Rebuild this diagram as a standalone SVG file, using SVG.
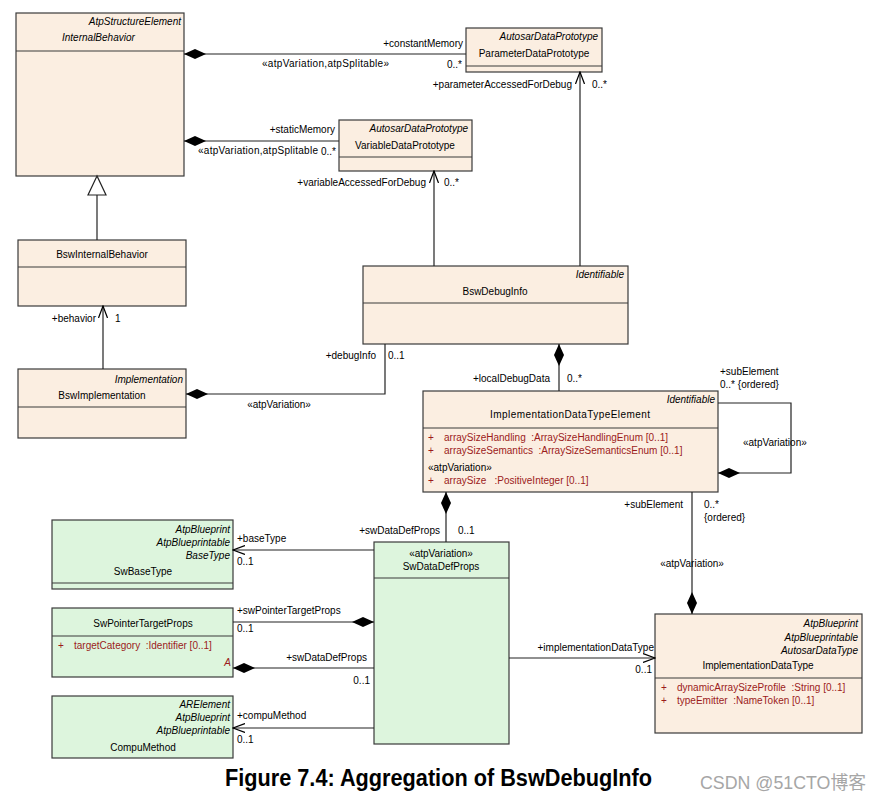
<svg xmlns="http://www.w3.org/2000/svg" width="875" height="805" viewBox="0 0 875 805">
<style>
text{font-family:"Liberation Sans",Arial,sans-serif;font-size:10px;fill:#000}
.it{font-style:italic}
.r{text-anchor:end}
.m{text-anchor:middle}
.attr{fill:#9b1b1b;white-space:pre}
.box{fill:#fbeee1;stroke:#3a3a3a;stroke-width:1.2}
.gbox{fill:#ddf5dd;stroke:#3a3a3a;stroke-width:1.2}
.div{stroke:#3a3a3a;stroke-width:1.2}
.c{fill:none;stroke:#222;stroke-width:1.2}
</style>
<defs>
<marker id="dia" viewBox="0 0 22 10" refX="0" refY="5" markerWidth="22" markerHeight="10" markerUnits="userSpaceOnUse" orient="auto">
<path d="M0,5 L11,0 L22,5 L11,10 Z" fill="#000"/>
</marker>
<marker id="arr" viewBox="0 0 13 10" refX="12" refY="5" markerWidth="13" markerHeight="10" markerUnits="userSpaceOnUse" orient="auto">
<path d="M0,0.5 L12,5 L0,9.5" fill="none" stroke="#000" stroke-width="1.2"/>
</marker>
</defs>
<rect width="875" height="805" fill="#fff"/>

<g id="InternalBehavior">
<rect class="box" x="16" y="13" width="168" height="163"/>
<line class="div" x1="16" y1="51" x2="184" y2="51"/>
<text class="it r" x="181" y="25">AtpStructureElement</text>
<text class="it" x="62" y="41">InternalBehavior</text>
</g>

<g id="ParameterDataPrototype">
<rect class="box" x="466" y="28" width="136" height="44"/>
<line class="div" x1="466" y1="66" x2="602" y2="66"/>
<text class="it r" x="598" y="40">AutosarDataPrototype</text>
<text class="m" x="534" y="57">ParameterDataPrototype</text>
</g>

<g id="VariableDataPrototype">
<rect class="box" x="339" y="120" width="133" height="51"/>
<line class="div" x1="339" y1="157" x2="472" y2="157"/>
<text class="it r" x="468" y="132">AutosarDataPrototype</text>
<text class="m" x="405" y="149">VariableDataPrototype</text>
</g>

<g id="BswInternalBehavior">
<rect class="box" x="18" y="240" width="168" height="66"/>
<line class="div" x1="18" y1="267" x2="186" y2="267"/>
<text class="m" x="102" y="258">BswInternalBehavior</text>
</g>

<g id="BswImplementation">
<rect class="box" x="18" y="369" width="168" height="69"/>
<line class="div" x1="18" y1="407" x2="186" y2="407"/>
<text class="it r" x="183" y="383">Implementation</text>
<text class="m" x="102" y="399">BswImplementation</text>
</g>

<g id="BswDebugInfo">
<rect class="box" x="363" y="266" width="265" height="78"/>
<line class="div" x1="363" y1="303" x2="628" y2="303"/>
<text class="it r" x="624" y="278">Identifiable</text>
<text class="m" x="495" y="295">BswDebugInfo</text>
</g>

<g id="ImplementationDataTypeElement">
<rect class="box" x="423" y="391" width="295" height="101"/>
<line class="div" x1="423" y1="428" x2="718" y2="428"/>
<text class="it r" x="715" y="403">Identifiable</text>
<text class="m" x="570" y="418" textLength="160">ImplementationDataTypeElement</text>
<text class="attr" x="428" y="441">+</text>
<text class="attr" x="444" y="441" xml:space="preserve">arraySizeHandling  :ArraySizeHandlingEnum [0..1]</text>
<text class="attr" x="428" y="454">+</text>
<text class="attr" x="444" y="454" xml:space="preserve">arraySizeSemantics  :ArraySizeSemanticsEnum [0..1]</text>
<text x="428" y="471">«atpVariation»</text>
<text class="attr" x="428" y="484">+</text>
<text class="attr" x="444" y="484" xml:space="preserve">arraySize   :PositiveInteger [0..1]</text>
</g>

<g id="SwBaseType">
<rect class="gbox" x="52" y="520" width="181" height="69"/>
<line class="div" x1="52" y1="583" x2="233" y2="583"/>
<text class="it r" x="230" y="533">AtpBlueprint</text>
<text class="it r" x="230" y="546">AtpBlueprintable</text>
<text class="it r" x="230" y="559">BaseType</text>
<text class="m" x="143" y="575">SwBaseType</text>
</g>

<g id="SwPointerTargetProps">
<rect class="gbox" x="52" y="608" width="181" height="69"/>
<line class="div" x1="52" y1="636" x2="233" y2="636"/>
<text class="m" x="143" y="627">SwPointerTargetProps</text>
<text class="attr" x="58" y="649">+</text>
<text class="attr" x="74" y="649" xml:space="preserve">targetCategory  :Identifier [0..1]</text>
<text class="attr it r" x="231" y="666">A</text>
</g>

<g id="CompuMethod">
<rect class="gbox" x="52" y="696" width="181" height="62"/>
<text class="it r" x="230" y="708">ARElement</text>
<text class="it r" x="230" y="721">AtpBlueprint</text>
<text class="it r" x="230" y="734">AtpBlueprintable</text>
<text class="m" x="143" y="751">CompuMethod</text>
</g>

<g id="SwDataDefProps">
<rect class="gbox" x="374" y="542" width="135" height="202"/>
<line class="div" x1="374" y1="578" x2="509" y2="578"/>
<text class="m" x="441" y="557">«atpVariation»</text>
<text class="m" x="441" y="570">SwDataDefProps</text>
</g>

<g id="ImplementationDataType">
<rect class="box" x="655" y="614" width="207" height="119"/>
<line class="div" x1="655" y1="678" x2="862" y2="678"/>
<text class="it r" x="858" y="627">AtpBlueprint</text>
<text class="it r" x="858" y="641">AtpBlueprintable</text>
<text class="it r" x="858" y="654">AutosarDataType</text>
<text class="m" x="758" y="669">ImplementationDataType</text>
<text class="attr" x="661" y="691">+</text>
<text class="attr" x="677" y="691" xml:space="preserve">dynamicArraySizeProfile  :String [0..1]</text>
<text class="attr" x="661" y="704">+</text>
<text class="attr" x="677" y="704" xml:space="preserve">typeEmitter  :NameToken [0..1]</text>
</g>

<g id="connectors">
<path class="c" d="M184,54 H466" marker-start="url(#dia)"/>
<path class="c" d="M184,141 H339" marker-start="url(#dia)"/>
<path class="c" d="M97,195 V240"/>
<polygon points="97,176 88,195 106,195" fill="#fff" stroke="#222" stroke-width="1.2"/>
<path class="c" d="M434,266 V171" marker-end="url(#arr)"/>
<path class="c" d="M580,266 V72" marker-end="url(#arr)"/>
<path class="c" d="M103,369 V306" marker-end="url(#arr)"/>
<path class="c" d="M186,394 H385 V344" marker-start="url(#dia)"/>
<path class="c" d="M559,344 V391" marker-start="url(#dia)"/>
<path class="c" d="M718,473 H791 V403 H718" marker-start="url(#dia)"/>
<path class="c" d="M692,614 V492" marker-start="url(#dia)"/>
<path class="c" d="M446,492 V542" marker-start="url(#dia)"/>
<path class="c" d="M374,550 H233" marker-end="url(#arr)"/>
<path class="c" d="M374,622 H233" marker-start="url(#dia)"/>
<path class="c" d="M233,668 H374" marker-start="url(#dia)"/>
<path class="c" d="M374,728 H233" marker-end="url(#arr)"/>
<path class="c" d="M509,658 H655" marker-end="url(#arr)"/>

<text class="r" x="463" y="47">+constantMemory</text>
<text x="262" y="67" textLength="127">«atpVariation,atpSplitable»</text>
<text class="r" x="462" y="68">0..*</text>
<text class="r" x="335" y="133">+staticMemory</text>
<text x="198" y="154" textLength="120">«atpVariation,atpSplitable</text>
<text x="321" y="155">0..*</text>
<text class="r" x="426" y="186">+variableAccessedForDebug</text>
<text x="444" y="186">0..*</text>
<text class="r" x="572" y="88">+parameterAccessedForDebug</text>
<text x="592" y="88">0..*</text>
<text class="r" x="96" y="322">+behavior</text>
<text x="115" y="322">1</text>
<text class="r" x="376" y="359">+debugInfo</text>
<text x="388" y="359">0..1</text>
<text class="m" x="279" y="408">«atpVariation»</text>
<text class="r" x="550" y="382">+localDebugData</text>
<text x="567" y="382">0..*</text>
<text x="720" y="375">+subElement</text>
<text x="720" y="388">0..* {ordered}</text>
<text x="743" y="446">«atpVariation»</text>
<text class="r" x="683" y="508">+subElement</text>
<text x="704" y="508">0..*</text>
<text x="704" y="521">{ordered}</text>
<text class="m" x="692" y="567">«atpVariation»</text>
<text class="r" x="440" y="534">+swDataDefProps</text>
<text x="458" y="534">0..1</text>
<text x="237" y="542">+baseType</text>
<text x="237" y="565">0..1</text>
<text x="237" y="614">+swPointerTargetProps</text>
<text x="237" y="632">0..1</text>
<text class="r" x="367" y="661">+swDataDefProps</text>
<text class="r" x="370" y="684">0..1</text>
<text x="237" y="719">+compuMethod</text>
<text x="237" y="743">0..1</text>
<text class="r" x="654" y="651">+implementationDataType</text>
<text class="r" x="652" y="673">0..1</text>
</g>

<text x="225" y="786" style="font-size:23px;font-weight:bold" textLength="427" lengthAdjust="spacingAndGlyphs">Figure 7.4: Aggregation of BswDebugInfo</text>
<text x="700" y="789" style="font-family:'Liberation Sans','Noto Sans CJK SC',sans-serif;font-size:18px;fill:#a6a6a6" textLength="166" lengthAdjust="spacingAndGlyphs">CSDN @51CTO博客</text>
</svg>
